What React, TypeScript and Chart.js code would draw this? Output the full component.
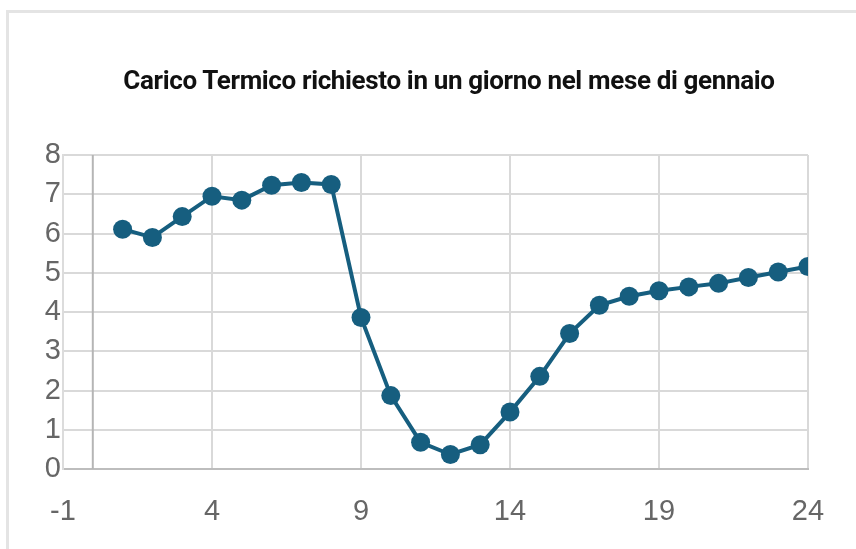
import React, { useEffect, useRef } from "react";
import { Chart, registerables } from "chart.js";

Chart.register(...registerables);

const TITLE = "Carico Termico richiesto in un giorno nel mese di gennaio";
const hours = [1, 2, 3, 4, 5, 6, 7, 8, 9, 10, 11, 12, 13, 14, 15, 16, 17, 18, 19, 20, 21, 22, 23, 24];
const load = [6.11, 5.9, 6.43, 6.95, 6.85, 7.23, 7.3, 7.25, 3.86, 1.87, 0.68, 0.37, 0.62, 1.45, 2.36, 3.45, 4.17, 4.4, 4.54, 4.64, 4.73, 4.88, 5.02, 5.16];
const xMin = -1;
const xMax = 24;
const xStep = 5;
const yMin = 0;
const yMax = 8;
const yStep = 1;

const LINE_COLOR = "#165e7f";

const zeroLinePlugin = {
  id: "zeroLine",
  beforeDatasetsDraw(chart: any) {
    const { ctx, chartArea, scales } = chart;
    const x = scales.x.getPixelForValue(0);
    ctx.save();
    ctx.strokeStyle = "#b5b5b5";
    ctx.lineWidth = 2;
    ctx.beginPath();
    ctx.moveTo(x, chartArea.top);
    ctx.lineTo(x, chartArea.bottom);
    ctx.stroke();
    ctx.restore();
  },
};

export default function App() {
  const ref = useRef<HTMLCanvasElement | null>(null);
  useEffect(() => {
    if (!ref.current) return;
    const chart = new Chart(ref.current, {
      type: "line",
      data: {
        datasets: [
          {
            data: hours.map((h, i) => ({ x: h, y: load[i] })),
            borderColor: LINE_COLOR,
            backgroundColor: LINE_COLOR,
            borderWidth: 4,
            pointRadius: 9.5,
            pointHoverRadius: 9.5,
            pointBorderWidth: 0,
            tension: 0,
          },
        ],
      },
      options: {
        responsive: false,
        animation: false,
        layout: { padding: { left: 0, right: 48, top: 155, bottom: 0 } },
        plugins: {
          legend: { display: false },
          tooltip: { enabled: false },
          title: { display: false },
        },
        scales: {
          x: {
            type: "linear",
            min: xMin,
            max: xMax,
            ticks: { stepSize: xStep, color: "#666", font: { family: "Liberation Sans", size: 29 }, padding: 26, maxRotation: 0 },
            grid: { color: "#d9d9d9", lineWidth: 2, drawTicks: false },
            border: { color: "#bdbdbd", width: 2 },
            afterFit: (s: any) => { s.height = 80; },
          },
          y: {
            min: yMin,
            max: yMax,
            ticks: { stepSize: yStep, color: "#666", font: { family: "Liberation Sans", size: 29 }, padding: 2 },
            grid: { color: "#d9d9d9", lineWidth: 2, drawTicks: false },
            border: { color: "#dcdcdc", width: 2 },
            afterFit: (s: any) => { s.width = 63; },
          },
        },
      },
      plugins: [zeroLinePlugin],
    });
    return () => chart.destroy();
  }, []);
  return (
    <div style={{ position: "absolute", left: 0, top: 0, width: 856, height: 549, overflow: "hidden", background: "#fff" }}>
      <div style={{ position: "absolute", left: 6, top: 10, width: 850, height: 539, borderTop: "3px solid #e4e4e4", borderLeft: "3px solid #e4e4e4", boxSizing: "border-box" }} />
      <canvas ref={ref} width={856} height={549} style={{ position: "absolute", left: 0, top: 0 }} />
      <div
        style={{
          position: "absolute",
          left: 49,
          top: 65,
          width: 800,
          textAlign: "center",
          fontFamily: "Roboto",
          fontWeight: 700,
          fontSize: 26,
          lineHeight: "30px",
          letterSpacing: "-0.35px",
          color: "#111",
          whiteSpace: "nowrap",
        }}
      >
        {TITLE}
      </div>
    </div>
  );
}
